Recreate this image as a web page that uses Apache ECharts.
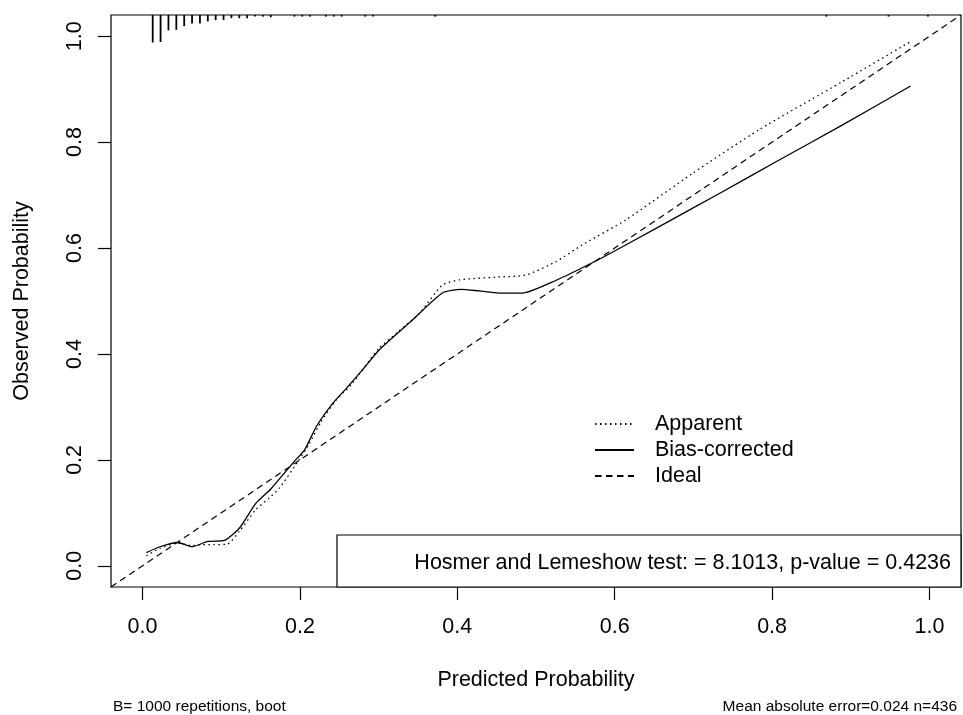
<!DOCTYPE html>
<html>
<head>
<meta charset="utf-8">
<script src="https://cdn.jsdelivr.net/npm/echarts@6/dist/echarts.min.js"></script>
<style>
html,body{margin:0;padding:0;background:#fff;}
#chart{width:963px;height:715px;}
</style>
</head>
<body>
<div id="chart"></div>
<script>
// ---- data ----
const axisMin = -0.04;
const axisMax = 1.04;
const tickValues = [0, 0.2, 0.4, 0.6, 0.8, 1.0];

const apparentX = [0.005, 0.022, 0.045, 0.063, 0.075, 0.090, 0.108, 0.123, 0.144, 0.161, 0.174, 0.199, 0.212, 0.227, 0.246, 0.267, 0.300, 0.325, 0.352, 0.381, 0.403, 0.449, 0.487, 0.525, 0.560, 0.614, 0.699, 0.783, 0.889, 0.975];
const apparentY = [0.019, 0.033, 0.043, 0.038, 0.040, 0.040, 0.041, 0.065, 0.106, 0.128, 0.147, 0.200, 0.231, 0.272, 0.313, 0.345, 0.410, 0.442, 0.477, 0.530, 0.540, 0.545, 0.549, 0.574, 0.607, 0.653, 0.741, 0.823, 0.914, 0.989];

const biasX = [0.005, 0.022, 0.045, 0.063, 0.083, 0.104, 0.123, 0.144, 0.163, 0.191, 0.206, 0.221, 0.242, 0.259, 0.279, 0.301, 0.343, 0.381, 0.405, 0.428, 0.458, 0.483, 0.521, 0.555, 0.587, 0.656, 0.733, 0.805, 0.889, 0.976];
const biasY = [0.025, 0.036, 0.044, 0.036, 0.046, 0.048, 0.071, 0.118, 0.145, 0.194, 0.219, 0.263, 0.307, 0.335, 0.369, 0.408, 0.464, 0.515, 0.522, 0.519, 0.515, 0.515, 0.536, 0.560, 0.584, 0.640, 0.703, 0.763, 0.832, 0.906];

const idealX = [axisMin, axisMax];
const idealY = [axisMin, axisMax];

// distribution of predicted risk (rug at the top)
const riskX = [0.013, 0.023, 0.033, 0.043, 0.053, 0.063, 0.073, 0.083, 0.093, 0.103, 0.113, 0.123, 0.133, 0.143, 0.153, 0.163, 0.193, 0.203, 0.213, 0.233, 0.243, 0.253, 0.283, 0.293, 0.372, 0.869, 0.948, 0.998];
const riskLen = [0.052, 0.051, 0.029, 0.028, 0.021, 0.016, 0.016, 0.012, 0.0095, 0.0095, 0.006, 0.006, 0.0062, 0.003, 0.003, 0.0043, 0.003, 0.003, 0.003, 0.003, 0.003, 0.003, 0.003, 0.003, 0.003, 0.003, 0.003, 0.003];

const seriesNames = ['Apparent', 'Bias-corrected', 'Ideal'];
const hlText = 'Hosmer and Lemeshow test: = 8.1013, p-value = 0.4236';
const subLeft = 'B= 1000 repetitions, boot';
const subRight = 'Mean absolute error=0.024 n=436';

// ---- chart ----
const FONT = '"Liberation Sans", Arial, Helvetica, sans-serif';
const FS = 21.5;
const zip = (xs, ys) => xs.map((x, i) => [x, ys[i]]);

const chart = echarts.init(document.getElementById('chart'), null, {renderer: 'canvas'});

const axisCommon = {
  type: 'value',
  min: axisMin,
  max: axisMax,
  axisLine: {show: false, onZero: false},
  splitLine: {show: false},
  axisTick: {show: true, inside: false, length: 13, customValues: tickValues, lineStyle: {color: '#000', width: 1.2}},
  nameLocation: 'middle',
  nameTextStyle: {fontFamily: FONT, fontSize: FS, color: '#000', lineHeight: 21}
};

chart.setOption({
  animation: false,
  backgroundColor: '#fff',
  grid: {left: 111, top: 15, width: 850, height: 572, show: true, borderColor: '#000', borderWidth: 1.2, backgroundColor: 'transparent', containLabel: false},
  xAxis: Object.assign({}, axisCommon, {
    name: 'Predicted Probability',
    nameGap: 82.5,
    axisLabel: {customValues: tickValues, formatter: v => v.toFixed(1), margin: 30, fontFamily: FONT, fontSize: FS, lineHeight: 21, color: '#000'}
  }),
  yAxis: Object.assign({}, axisCommon, {
    name: 'Observed Probability',
    nameGap: 78.5,
    axisLabel: {customValues: tickValues, formatter: v => v.toFixed(1), rotate: 90, margin: 25, fontFamily: FONT, fontSize: FS, lineHeight: 21, color: '#000'}
  }),
  legend: {
    data: seriesNames,
    orient: 'vertical',
    left: 594,
    top: 411,
    padding: 0,
    itemGap: 0,
    itemWidth: 39,
    itemHeight: 14,
    selectedMode: false,
    itemStyle: {opacity: 0},
    textStyle: {fontFamily: FONT, fontSize: FS, color: '#000', lineHeight: 26, padding: [0, 0, 0, 16]}
  },
  series: [
    {
      name: seriesNames[0], type: 'line', data: zip(apparentX, apparentY), symbol: 'none', smooth: 0.2,
      lineStyle: {color: '#000', width: 1.3, type: [1.5, 3.5]}, itemStyle: {color: '#000'}, z: 3
    },
    {
      name: seriesNames[1], type: 'line', data: zip(biasX, biasY), symbol: 'none', smooth: 0.2,
      lineStyle: {color: '#000', width: 1.3, type: 'solid'}, itemStyle: {color: '#000'}, z: 4
    },
    {
      name: seriesNames[2], type: 'line', data: zip(idealX, idealY), symbol: 'none', clip: true,
      lineStyle: {color: '#000', width: 1.2, type: [6.5, 4.5]}, itemStyle: {color: '#000'}, z: 2
    },
    {
      name: 'risk', type: 'custom', data: zip(riskX, riskLen), clip: false, z: 5,
      renderItem: function (params, api) {
        const x = api.value(0), h = api.value(1);
        const p1 = api.coord([x, axisMax]);
        const p2 = api.coord([x, axisMax - h]);
        return {type: 'line', shape: {x1: p1[0], y1: p1[1], x2: p2[0], y2: p2[1]}, style: {stroke: '#000', lineWidth: 1.8}};
      }
    }
  ],
  graphic: [
    {type: 'rect', shape: {x: 337, y: 535, width: 624, height: 52}, style: {fill: '#fff', stroke: '#000', lineWidth: 1.2}, z: 10},
    {type: 'text', x: 951, y: 563, style: {text: hlText, font: FS + 'px ' + FONT, fill: '#000', align: 'right', verticalAlign: 'middle'}, z: 11},
    {type: 'text', x: 113, y: 707, style: {text: subLeft, font: '15.5px ' + FONT, fill: '#000', align: 'left', verticalAlign: 'middle'}, z: 11},
    {type: 'text', x: 957, y: 707, style: {text: subRight, font: '15.5px ' + FONT, fill: '#000', align: 'right', verticalAlign: 'middle'}, z: 11}
  ]
});
</script>
</body>
</html>
